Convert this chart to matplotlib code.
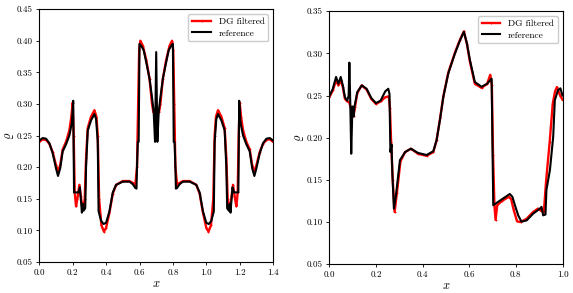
"""Density profiles: DG filtered solution vs. reference, two test cases side by side."""

import matplotlib
matplotlib.use("Agg")
import matplotlib.pyplot as plt

plt.rcParams["font.family"] = "serif"
plt.rcParams["font.serif"] = ["cmr10", "DejaVu Serif"]
plt.rcParams["mathtext.fontset"] = "cm"
plt.rcParams["axes.formatter.use_mathtext"] = True

# ---- left case, domain [0, 1.4] ----
left_ref_x = [
    0.00, 0.02, 0.04, 0.06, 0.08, 0.10, 0.112, 0.125, 0.14, 0.16, 0.18, 0.195,
    0.203, 0.208, 0.235, 0.243, 0.250, 0.255, 0.260, 0.265, 0.275, 0.280, 0.290,
    0.310, 0.330, 0.340, 0.350, 0.355, 0.370, 0.385, 0.400, 0.420, 0.440, 0.460,
    0.500, 0.540, 0.560, 0.575, 0.582, 0.585, 0.590, 0.595, 0.600, 0.610, 0.625,
    0.645, 0.660, 0.675, 0.685, 0.693, 0.700,
    0.707, 0.715, 0.725, 0.740, 0.755, 0.775, 0.790, 0.800, 0.805, 0.810, 0.815,
    0.818, 0.825, 0.840, 0.860, 0.900, 0.940, 0.960, 0.980, 1.000, 1.015, 1.030,
    1.045, 1.050, 1.060, 1.070, 1.090, 1.110, 1.120, 1.125, 1.135, 1.140, 1.145,
    1.150, 1.157, 1.165, 1.192, 1.197, 1.205, 1.220, 1.240, 1.260, 1.275, 1.288,
    1.300, 1.320, 1.340, 1.360, 1.380, 1.400,
]
left_ref_rho = [
    0.242, 0.246, 0.245, 0.238, 0.222, 0.198, 0.186, 0.198, 0.225, 0.236, 0.250, 0.270,
    0.305, 0.160, 0.160, 0.168, 0.145, 0.128, 0.142, 0.131, 0.135, 0.200, 0.258,
    0.274, 0.284, 0.276, 0.240, 0.130, 0.115, 0.110, 0.112, 0.130, 0.160, 0.172,
    0.177, 0.177, 0.173, 0.167, 0.166, 0.200, 0.240, 0.240, 0.395, 0.392, 0.385,
    0.360, 0.340, 0.310, 0.287, 0.240, 0.382,
    0.240, 0.287, 0.310, 0.340, 0.360, 0.385, 0.392, 0.395, 0.240, 0.240, 0.200,
    0.166, 0.167, 0.173, 0.177, 0.177, 0.172, 0.160, 0.130, 0.112, 0.110, 0.115,
    0.130, 0.240, 0.276, 0.284, 0.274, 0.258, 0.200, 0.135, 0.131, 0.142, 0.128,
    0.145, 0.168, 0.160, 0.160, 0.305, 0.270, 0.250, 0.236, 0.225, 0.198, 0.186,
    0.198, 0.222, 0.238, 0.245, 0.246, 0.242,
]
left_dg_x = [
    0.00, 0.02, 0.04, 0.06, 0.08, 0.10, 0.112, 0.125, 0.14, 0.16, 0.18, 0.192,
    0.200, 0.206, 0.212, 0.220, 0.228, 0.240, 0.248, 0.256, 0.264, 0.272, 0.280,
    0.290, 0.310, 0.330, 0.342, 0.350, 0.358, 0.372, 0.387, 0.400, 0.420, 0.440,
    0.460, 0.500, 0.540, 0.560, 0.575, 0.585, 0.592, 0.598, 0.605, 0.620, 0.640,
    0.660, 0.675, 0.683, 0.700,
    0.717, 0.725, 0.740, 0.760, 0.780, 0.795, 0.802, 0.808, 0.815, 0.825, 0.840,
    0.860, 0.900, 0.940, 0.960, 0.980, 1.000, 1.013, 1.028, 1.042, 1.050, 1.058,
    1.070, 1.090, 1.110, 1.120, 1.128, 1.136, 1.144, 1.152, 1.160, 1.172, 1.180,
    1.188, 1.194, 1.200, 1.208, 1.220, 1.240, 1.260, 1.275, 1.288, 1.300, 1.320,
    1.340, 1.360, 1.380, 1.400,
]
left_dg_rho = [
    0.240, 0.244, 0.243, 0.237, 0.224, 0.203, 0.193, 0.203, 0.228, 0.240, 0.258, 0.280,
    0.302, 0.250, 0.160, 0.138, 0.150, 0.172, 0.155, 0.140, 0.135, 0.150, 0.215,
    0.262, 0.280, 0.290, 0.280, 0.250, 0.150, 0.108, 0.098, 0.104, 0.128, 0.158,
    0.172, 0.178, 0.178, 0.175, 0.172, 0.200, 0.300, 0.385, 0.400, 0.392, 0.370,
    0.340, 0.300, 0.287, 0.287,
    0.287, 0.300, 0.340, 0.370, 0.392, 0.400, 0.385, 0.300, 0.200, 0.172, 0.175,
    0.178, 0.178, 0.172, 0.158, 0.128, 0.104, 0.098, 0.108, 0.150, 0.250, 0.280,
    0.290, 0.280, 0.262, 0.215, 0.150, 0.135, 0.140, 0.155, 0.172, 0.150, 0.138,
    0.160, 0.250, 0.302, 0.280, 0.258, 0.240, 0.228, 0.203, 0.193, 0.203, 0.224,
    0.237, 0.243, 0.244, 0.240,
]

# ---- right case, domain [0, 1] ----
right_ref_x = [
    0.000, 0.015, 0.029, 0.039, 0.049, 0.058, 0.067, 0.077, 0.083, 0.086, 0.090,
    0.094, 0.098, 0.100, 0.104, 0.108, 0.120, 0.139, 0.160, 0.180, 0.200, 0.220,
    0.240, 0.253, 0.258, 0.262, 0.267, 0.270, 0.277, 0.285, 0.303, 0.325, 0.350,
    0.380, 0.417, 0.446, 0.460, 0.475, 0.489, 0.510, 0.539, 0.560, 0.577, 0.590,
    0.603, 0.624, 0.653, 0.677, 0.696, 0.703, 0.740, 0.774, 0.785, 0.796, 0.810,
    0.824, 0.846, 0.874, 0.903, 0.910, 0.917, 0.927, 0.931, 0.946, 0.960, 0.967,
    0.981, 0.991, 1.000,
]
right_ref_rho = [
    0.249, 0.258, 0.272, 0.264, 0.272, 0.262, 0.248, 0.244, 0.250, 0.289, 0.240,
    0.181, 0.225, 0.237, 0.225, 0.237, 0.254, 0.262, 0.258, 0.247, 0.241, 0.244,
    0.255, 0.258, 0.252, 0.183, 0.192, 0.160, 0.116, 0.130, 0.1735, 0.183, 0.187,
    0.182, 0.1795, 0.184, 0.197, 0.222, 0.2485, 0.276, 0.300, 0.315, 0.3255, 0.312,
    0.292, 0.266, 0.2604, 0.264, 0.270, 0.120, 0.127, 0.1333, 0.130, 0.120, 0.108,
    0.1005, 0.102, 0.110, 0.116, 0.118, 0.108, 0.109, 0.138, 0.1617, 0.201, 0.2446,
    0.2565, 0.2585, 0.250,
]
right_dg_x = [
    0.000, 0.015, 0.029, 0.039, 0.049, 0.058, 0.067, 0.077, 0.085, 0.092, 0.098,
    0.104, 0.110, 0.120, 0.139, 0.160, 0.180, 0.200, 0.220, 0.240, 0.255, 0.260,
    0.265, 0.272, 0.280, 0.290, 0.305, 0.325, 0.350, 0.380, 0.417, 0.446, 0.460,
    0.475, 0.489, 0.510, 0.539, 0.560, 0.577, 0.590, 0.603, 0.624, 0.653, 0.677,
    0.690, 0.697, 0.702, 0.708, 0.713, 0.720, 0.740, 0.770, 0.780, 0.790, 0.805,
    0.820, 0.846, 0.874, 0.895, 0.910, 0.920, 0.930, 0.945, 0.958, 0.968, 0.976,
    0.990, 1.000,
]
right_dg_rho = [
    0.248, 0.256, 0.268, 0.262, 0.268, 0.260, 0.246, 0.243, 0.242, 0.236, 0.228,
    0.226, 0.236, 0.253, 0.262, 0.257, 0.246, 0.240, 0.243, 0.248, 0.249, 0.235,
    0.195, 0.150, 0.112, 0.135, 0.172, 0.183, 0.187, 0.181, 0.1785, 0.183, 0.197,
    0.223, 0.249, 0.277, 0.301, 0.316, 0.326, 0.311, 0.290, 0.264, 0.259, 0.264,
    0.2745, 0.262, 0.180, 0.120, 0.1025, 0.120, 0.125, 0.130, 0.127, 0.115, 0.101,
    0.100, 0.104, 0.112, 0.116, 0.113, 0.112, 0.150, 0.195, 0.240, 0.255, 0.260,
    0.250, 0.245,
]

left_xticks = [0.0, 0.2, 0.4, 0.6, 0.8, 1.0, 1.2, 1.4]
left_yticks = [0.05, 0.10, 0.15, 0.20, 0.25, 0.30, 0.35, 0.40, 0.45]
right_xticks = [0.0, 0.2, 0.4, 0.6, 0.8, 1.0]
right_yticks = [0.05, 0.10, 0.15, 0.20, 0.25, 0.30, 0.35]


def draw_panel(ax, dg_x, dg_rho, ref_x, ref_rho, xticks, yticks):
    ax.plot(dg_x, dg_rho, color="red", lw=1.7, marker="+", ms=2.0, mew=0.6,
            label="DG filtered")
    ax.plot(ref_x, ref_rho, color="black", lw=1.5, label="reference")
    ax.set_xlim(xticks[0], xticks[-1])
    ax.set_ylim(yticks[0], yticks[-1])
    ax.set_xticks(xticks)
    ax.set_yticks(yticks)
    ax.set_xticklabels([f"{t:.1f}" for t in xticks])
    ax.set_yticklabels([f"{t:.2f}" for t in yticks])
    ax.tick_params(labelsize=6.5, length=2.5, width=0.6, pad=2)
    for s in ax.spines.values():
        s.set_linewidth(0.8)
    ax.set_xlabel("$x$", fontsize=9, labelpad=1)
    ax.set_ylabel(r"$\varrho$", fontsize=9, labelpad=1)
    ax.legend(loc="upper right", fontsize=6.8, framealpha=1.0, fancybox=True,
              handlelength=2.0, borderpad=0.4, labelspacing=0.3)


fig = plt.figure(figsize=(5.73, 2.93), dpi=100)
fig.patch.set_facecolor("white")
ax1 = fig.add_axes([0.0686, 0.106, 0.408, 0.863])
ax2 = fig.add_axes([0.5747, 0.098, 0.407, 0.864])

draw_panel(ax1, left_dg_x, left_dg_rho, left_ref_x, left_ref_rho, left_xticks, left_yticks)
draw_panel(ax2, right_dg_x, right_dg_rho, right_ref_x, right_ref_rho, right_xticks, right_yticks)

fig.savefig("out.png", dpi=100, facecolor="white")
